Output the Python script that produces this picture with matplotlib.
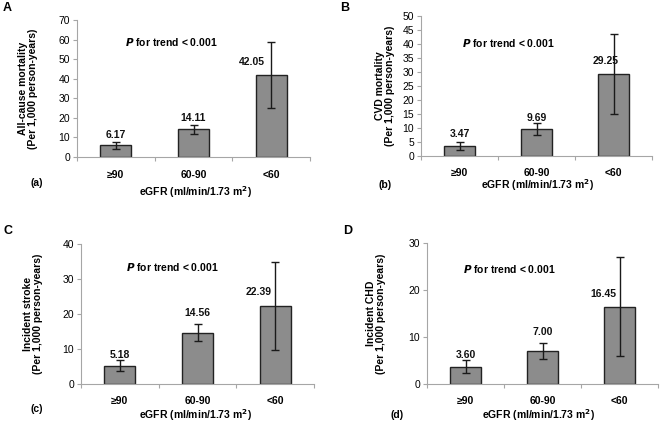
import matplotlib
matplotlib.use("Agg")
import matplotlib.pyplot as plt

plt.rcParams['font.family'] = ['Liberation Sans', 'DejaVu Sans']

# ---------------- DATA ----------------
categories = ["≥90", "60-90", "<60"]

allcause = [6.17, 14.11, 42.05]
allcause_lo = [4.1, 11.5, 25.1]
allcause_hi = [7.8, 16.3, 58.6]

cvd = [3.47, 9.69, 29.25]
cvd_lo = [2.0, 7.6, 15.1]
cvd_hi = [4.9, 11.8, 43.5]

stroke = [5.18, 14.56, 22.39]
stroke_lo = [3.6, 12.4, 9.8]
stroke_hi = [6.9, 17.1, 34.9]

chd = [3.60, 7.00, 16.45]
chd_lo = [2.4, 5.4, 6.0]
chd_hi = [5.1, 8.8, 27.1]

ylabels = ["All-cause mortality", "CVD mortality", "Incident stroke", "Incident CHD"]
ymax = [70, 50, 40, 30]
ystep = [10, 5, 10, 10]
panel_letters = ["A", "B", "C", "D"]
sub_letters = ["(a)", "(b)", "(c)", "(d)"]

W, H = 661, 426
fig = plt.figure(figsize=(W / 100, H / 100), dpi=100, facecolor="white")


def fx(x):
    return x / W


def fy(y):
    return 1 - y / H


# layout in pixels: left, right, top, bottom of each axes
boxes = [(77, 310, 20, 157), (421, 652, 16, 156), (81, 314, 244, 384), (427, 658, 243, 384)]
letter_pos = [(3, 8), (340, 8), (3, 231), (343, 231)]
sub_pos = [(37, 183), (385, 185), (37, 409), (397, 415)]
xlab_pos = [(195, 192), (537, 185), (195, 415), (538, 415)]
ylab_x = [28, 385, 33, 376]
ptxt_pos = [(171, 42), (508, 43), (172, 267), (509, 269)]
# value label offsets (px) from bar top: (dx, dy)
lab_off = [
    [(0, 10), (0, 11), (-19, 13)],
    [(0, 12), (0, 11), (-8, 13)],
    [(0, 11), (0, 20), (-17, 14)],
    [(0, 12), (0, 19), (-16, 13)],
]

series = [(allcause, allcause_lo, allcause_hi), (cvd, cvd_lo, cvd_hi),
          (stroke, stroke_lo, stroke_hi), (chd, chd_lo, chd_hi)]

spine_col = "#a6a6a6"
bar_col = "#8c8c8c"

for i, (vals, lo, hi) in enumerate(series):
    l, r, t, b = boxes[i]
    ax = fig.add_axes([fx(l), fy(b), (r - l) / W, (b - t) / H])
    x = list(range(len(categories)))
    yerr = [[v - a for v, a in zip(vals, lo)], [c - v for v, c in zip(vals, hi)]]
    ax.bar(x, vals, width=0.4, color=bar_col, edgecolor="#222222", linewidth=1.0, zorder=2)
    ax.errorbar(x, vals, yerr=yerr, fmt="none", ecolor="#1a1a1a", elinewidth=1.0,
                capsize=3, capthick=1.0, zorder=3)
    for j, v in enumerate(vals):
        dx, dy = lab_off[i][j]
        ax.annotate(f"{v:.2f}", (x[j], v), xytext=(dx, dy), textcoords="offset pixels",
                    ha="center", va="center", fontsize=7.5, fontweight="bold", color="#111111")

    ax.set_xlim(-0.5, 2.5)
    ax.set_ylim(0, ymax[i])
    ax.set_yticks(range(0, ymax[i] + 1, ystep[i]))
    ax.set_xticks([-0.5, 0.5, 1.5, 2.5])
    ax.set_xticklabels([])
    ax.set_xticks(x, minor=True)
    ax.set_xticklabels(categories, minor=True, fontweight="bold", fontsize=7.5)
    ax.tick_params(axis="x", which="major", length=3, color=spine_col, direction="out")
    ax.tick_params(axis="x", which="minor", length=0, pad=9)
    ax.tick_params(axis="y", length=3, color=spine_col, labelsize=7.5, pad=2)
    for s in ["top", "right"]:
        ax.spines[s].set_visible(False)
    for s in ["left", "bottom"]:
        ax.spines[s].set_color(spine_col)
        ax.spines[s].set_linewidth(0.8)

    # texts
    fig.text(fx(letter_pos[i][0]), fy(letter_pos[i][1]), panel_letters[i],
             fontsize=9, fontweight="bold", ha="left", va="center")
    fig.text(fx(sub_pos[i][0]), fy(sub_pos[i][1]), sub_letters[i],
             fontsize=7.5, fontweight="bold", ha="center", va="center")
    fig.text(fx(xlab_pos[i][0]), fy(xlab_pos[i][1]), "eGFR (ml/min/1.73 m$^{\\mathbf{2}}$)",
             fontsize=7.5, fontweight="bold", ha="center", va="center")
    yc = (t + b) / 2
    fig.text(fx(ylab_x[i]), fy(yc), ylabels[i] + "\n(Per 1,000 person-years)",
             fontsize=7.5, fontweight="bold", ha="center", va="center", rotation=90,
             linespacing=1.1)
    fig.text(fx(ptxt_pos[i][0]), fy(ptxt_pos[i][1]), "$\\mathbfit{P}$ for trend < 0.001",
             fontsize=7.5, fontweight="bold", ha="center", va="center")

fig.savefig("out.png", dpi=100, facecolor="white")
